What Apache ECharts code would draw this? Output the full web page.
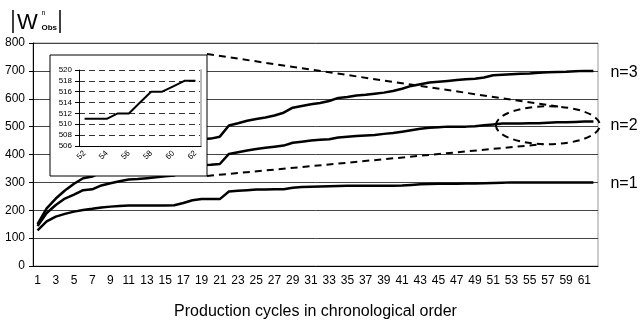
<!DOCTYPE html>
<html><head><meta charset="utf-8">
<script src="https://cdn.jsdelivr.net/npm/echarts@6/dist/echarts.min.js"></script>
<style>html,body{margin:0;padding:0;background:#fff}#main{width:640px;height:325px}</style>
</head><body><div id="main"></div>
<script>
// ---- data ----
const cycles = ['1','2','3','4','5','6','7','8','9','10','11','12','13','14','15','16','17','18','19','20',
  '21','22','23','24','25','26','27','28','29','30','31','32','33','34','35','36','37','38','39','40',
  '41','42','43','44','45','46','47','48','49','50','51','52','53','54','55','56','57','58','59','60','61','62'];
const n1 = [128,160,177,187,195,201,205,210,213,215,
  217,217,217,217,217,218,226,236,240,240,
  240,267,270,272,274,274,275,275,281,283,
  284,285,286,287,288,288,288,288,288,288,
  289,291,293,294,295,295,295,296,296,297,
  298,299,300,300,300,300,300,300,300,300,
  300,300];
const n2 = [143,190,219,242,256,272,275,289,297,304,
  310,312,315,318,322,325,335,350,362,363,
  366,402,408,414,420,424,428,432,442,446,
  450,453,455,461,464,466,468,470,474,477,
  482,487,492,496,498,500,500,500,501,505,
  508,511,511,511,512,512,514,516,516,517,
  518,518];
const n3 = [150,207,242,271,295,315,321,337,350,362,
  372,380,388,396,405,418,432,445,455,457,
  464,504,512,521,527,533,540,550,568,574,
  580,585,592,603,606,612,614,618,622,628,
  636,646,652,658,661,664,667,670,672,676,
  684,686,688,690,691,693,695,696,697,699,
  700,700];
const seriesNames = ['n=1','n=2','n=3'];
const insetCycles = ['52','53','54','55','56','57','58','59','60','61','62'];
const insetValues = [511,511,511,512,512,514,516,516,517,518,518];
const xTitle = 'Production cycles in chronological order';
// callout ellipse (data space): centre category, centre value, half width in categories, half height in units
const calloutCat = '57', calloutVal = 505, calloutHalfCats = 5.7, calloutHalfVal = 68;

const FONT = "'Liberation Sans', Arial, sans-serif";
const chart = echarts.init(document.getElementById('main'));
const lineSeries = (data, name, off) => ({
  type: 'line', name, xAxisIndex: 0, yAxisIndex: 0, data, symbol: 'none', z: 2,
  lineStyle: {color: '#000', width: 2.5},
  endLabel: {show: true, formatter: name, fontSize: 16, color: '#000', distance: 17, offset: [0, off], fontFamily: FONT}
});
chart.setOption({
  animation: false,
  textStyle: {fontFamily: FONT},
  grid: [
    {left: 33, top: 43, right: 42, bottom: 52, show: true, borderColor: '#999', borderWidth: 1},
    {left: 79, top: 70, width: 122, height: 76, z: 10}
  ],
  xAxis: [
    {type: 'category', gridIndex: 0, data: cycles, boundaryGap: true,
     name: xTitle, nameLocation: 'middle', nameGap: 38,
     nameTextStyle: {fontSize: 16, color: '#000', fontFamily: FONT},
     axisLine: {lineStyle: {color: '#000', width: 1}},
     axisTick: {interval: 0, length: 4, lineStyle: {color: '#000'}},
     axisLabel: {interval: 1, fontSize: 12, color: '#000', margin: 9},
     splitLine: {show: false}},
    {type: 'category', gridIndex: 1, data: insetCycles, boundaryGap: true, z: 10,
     axisLine: {lineStyle: {color: '#000', width: 1}},
     axisTick: {interval: 0, length: 3, lineStyle: {color: '#000'}},
     axisLabel: {interval: 1, rotate: 45, fontSize: 8, color: '#000', margin: 6},
     splitLine: {show: false}}
  ],
  yAxis: [
    {type: 'value', gridIndex: 0, min: 0, max: 800, interval: 100,
     axisLine: {show: true, lineStyle: {color: '#000'}},
     axisTick: {show: true, length: 4, lineStyle: {color: '#000'}},
     axisLabel: {fontSize: 12, color: '#000', margin: 8},
     splitLine: {lineStyle: {color: '#444', width: 1}}},
    {type: 'value', gridIndex: 1, min: 506, max: 520, interval: 2, z: 10,
     axisLine: {show: true, lineStyle: {color: '#000'}},
     axisTick: {show: true, length: 4, lineStyle: {color: '#000'}},
     axisLabel: {fontSize: 8, color: '#000', margin: 7},
     splitLine: {lineStyle: {type: [6, 4], color: '#333', width: 1}}},
    {type: 'value', gridIndex: 1, position: 'right', min: 506, max: 520, interval: 2, z: 10,
     axisLine: {show: true, lineStyle: {color: '#bbb', width: 2}},
     axisTick: {show: false}, axisLabel: {show: false}, splitLine: {show: false}}
  ],
  series: [
    lineSeries(n1, seriesNames[0], 1),
    lineSeries(n2, seriesNames[1], 4),
    lineSeries(n3, seriesNames[2], 2),
    {type: 'line', xAxisIndex: 1, yAxisIndex: 1, data: insetValues, symbol: 'none', z: 12,
     lineStyle: {color: '#000', width: 2}}
  ]
});

// callout geometry derived from the main axes
const px = (c, v) => chart.convertToPixel({gridIndex: 0}, [c, v]);
const ctr = px(calloutCat, calloutVal);
const step = px(cycles[1], 0)[0] - px(cycles[0], 0)[0];
const rx = calloutHalfCats * step;
const ry = Math.abs(px(calloutCat, calloutVal + calloutHalfVal)[1] - ctr[1]);
const onEllipse = deg => [ctr[0] + rx * Math.cos(deg * Math.PI / 180), ctr[1] - ry * Math.sin(deg * Math.PI / 180)];
const box = {x: 50, y: 55, width: 157, height: 121};
const pTop = onEllipse(78), pBot = onEllipse(-95);
const dash = {stroke: '#000', lineWidth: 2, lineDash: [7, 5], fill: 'none'};

chart.setOption({
  graphic: [
    {type: 'rect', z: 5, shape: box, style: {fill: '#fff', stroke: '#000', lineWidth: 1}},
    {type: 'ellipse', z: 6, shape: {cx: ctr[0], cy: ctr[1], rx, ry}, style: dash},
    {type: 'line', z: 6, shape: {x1: box.x + box.width, y1: box.y - 1, x2: pTop[0], y2: pTop[1]}, style: dash},
    {type: 'line', z: 6, shape: {x1: box.x + box.width, y1: box.y + box.height, x2: pBot[0], y2: pBot[1]}, style: dash},
    // axis title |W^n_Obs|
    {type: 'line', z: 6, shape: {x1: 13, y1: 10, x2: 13, y2: 33}, style: {stroke: '#000', lineWidth: 1.5}},
    {type: 'line', z: 6, shape: {x1: 60, y1: 10, x2: 60, y2: 33}, style: {stroke: '#000', lineWidth: 1.5}},
    {type: 'text', z: 6, x: 17, y: 22.5, style: {text: 'W', font: '22px ' + FONT, fill: '#000', verticalAlign: 'middle'}},
    {type: 'text', z: 6, x: 41.5, y: 13, style: {text: 'n', font: '7px ' + FONT, fill: '#000', verticalAlign: 'middle'}},
    {type: 'text', z: 6, x: 41.5, y: 28, style: {text: 'Obs', font: 'bold 8px ' + FONT, fill: '#000', verticalAlign: 'middle'}}
  ]
});
</script>
</body></html>
